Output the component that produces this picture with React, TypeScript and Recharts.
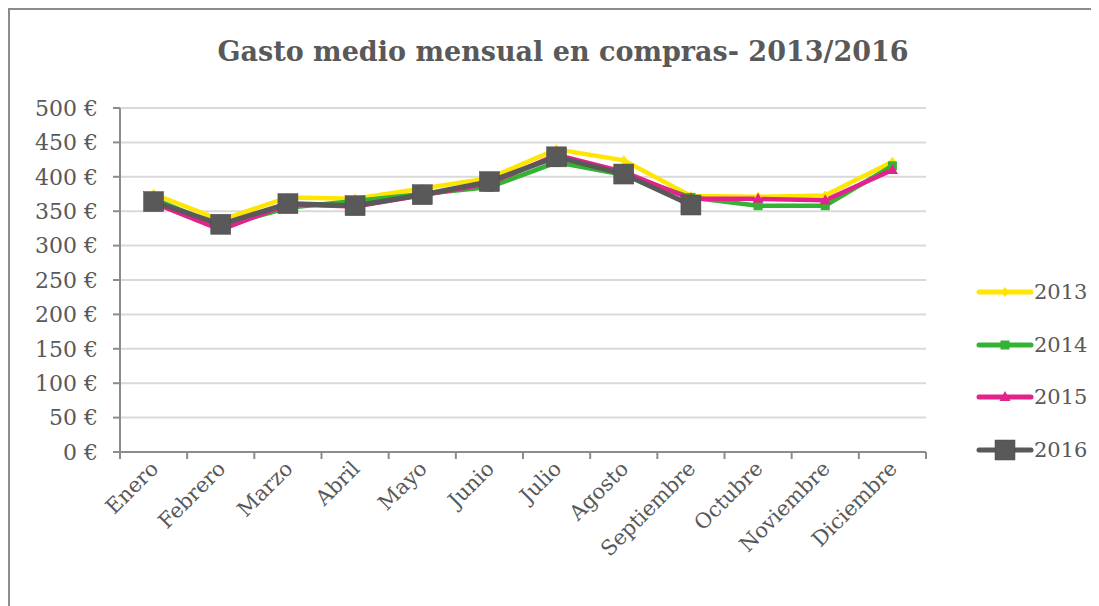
import React from 'react';
import { LineChart, Line, XAxis, YAxis, CartesianGrid } from 'recharts';

const months = [
  'Enero', 'Febrero', 'Marzo', 'Abril', 'Mayo', 'Junio',
  'Julio', 'Agosto', 'Septiembre', 'Octubre', 'Noviembre', 'Diciembre',
];

const gasto2013 = [375, 337, 370, 368, 383, 398, 440, 424, 372, 371, 373, 422];
const gasto2014 = [368, 328, 355, 365, 375, 385, 421, 403, 370, 358, 358, 416];
const gasto2015 = [362, 323, 360, 357, 373, 390, 432, 407, 368, 368, 366, 410];
const gasto2016: (number | null)[] = [364, 331, 361, 358, 374, 393, 429, 404, 359, null, null, null];

const yTicks = [0, 50, 100, 150, 200, 250, 300, 350, 400, 450, 500];
const xTicks = [0, 1, 2, 3, 4, 5, 6, 7, 8, 9, 10, 11, 12];

const data = months.map((m, i) => ({
  x: i + 0.5,
  month: m,
  y2013: gasto2013[i],
  y2014: gasto2014[i],
  y2015: gasto2015[i],
  y2016: gasto2016[i],
}));

const FONT = '"DejaVu Serif", serif';
const TEXT = '#595959';
const AXIS = '#8c8c8c';

const CHART_W = 1090;
const CHART_H = 596;
const MARGIN = { top: 98, right: 174, bottom: 0, left: 0 };
const Y_W = 110;
const BAND = (CHART_W - MARGIN.right - Y_W) / 12;

type Shape = 'diamond' | 'square' | 'triangle' | 'bigsquare';

const series: { key: string; name: string; color: string; shape: Shape }[] = [
  { key: 'y2013', name: '2013', color: '#FFE600', shape: 'diamond' },
  { key: 'y2014', name: '2014', color: '#33B233', shape: 'square' },
  { key: 'y2015', name: '2015', color: '#E3238C', shape: 'triangle' },
  { key: 'y2016', name: '2016', color: '#595959', shape: 'bigsquare' },
];

const marker = (shape: Shape, cx: number, cy: number, color: string) => {
  switch (shape) {
    case 'diamond':
      return <path d={`M${cx},${cy - 5}L${cx + 4},${cy}L${cx},${cy + 5}L${cx - 4},${cy}Z`} fill={color} />;
    case 'square':
      return <rect x={cx - 4.5} y={cy - 4.5} width={9} height={9} fill={color} />;
    case 'triangle':
      return <path d={`M${cx},${cy - 6}L${cx + 5.5},${cy + 4}L${cx - 5.5},${cy + 4}Z`} fill={color} />;
    default:
      return <rect x={cx - 10} y={cy - 10} width={20} height={20} fill={color} stroke="#4a4a4a" strokeWidth={0.5} />;
  }
};

const makeDot = (shape: Shape, color: string) => (props: any) => {
  const { cx, cy, index, value } = props;
  if (value == null || cx == null || cy == null) return <g key={`d-${index}`} />;
  return <g key={`d-${index}`}>{marker(shape, cx, cy, color)}</g>;
};

const MonthTick = (props: any) => {
  const { x, y, payload } = props;
  const i = payload.value;
  if (i >= 12) return <g />;
  const cx = x + BAND / 2 + 6;
  const cy = y + 9;
  return (
    <text
      x={cx}
      y={cy}
      transform={`rotate(-45 ${cx} ${cy})`}
      textAnchor="end"
      fill={TEXT}
      fontSize={21}
      fontFamily={FONT}
    >
      {months[i]}
    </text>
  );
};

const App: React.FC = () => {
  return (
    <div
      style={{
        position: 'relative',
        width: 1091,
        height: 598,
        boxSizing: 'border-box',
        borderLeft: `2px solid ${AXIS}`,
        borderTop: `2px solid ${AXIS}`,
        background: '#fff',
        fontFamily: FONT,
      }}
    >
      <style>{'html, body { overflow: hidden; }'}</style>
      <div
        style={{
          position: 'absolute',
          top: 26,
          left: 0,
          width: 1106,
          textAlign: 'center',
          fontSize: 27,
          fontWeight: 'bold',
          color: TEXT,
        }}
      >
        Gasto medio mensual en compras- 2013/2016
      </div>

      <LineChart width={CHART_W} height={CHART_H} data={data} margin={MARGIN}>
        <CartesianGrid vertical={false} stroke="#d9d9d9" strokeWidth={2} />
        <XAxis
          type="number"
          dataKey="x"
          domain={[0, 12]}
          ticks={xTicks}
          interval={0}
          height={CHART_H - MARGIN.top - 344}
          axisLine={{ stroke: AXIS, strokeWidth: 2 }}
          tickLine={{ stroke: AXIS, strokeWidth: 2 }}
          tickSize={7}
          tick={<MonthTick />}
        />
        <YAxis
          type="number"
          domain={[0, 500]}
          ticks={yTicks}
          interval={0}
          width={Y_W}
          axisLine={{ stroke: AXIS, strokeWidth: 2 }}
          tickLine={{ stroke: AXIS, strokeWidth: 2 }}
          tickSize={7}
          tickMargin={15}
          tickFormatter={(v: number) => `${v} €`}
          tick={{ fill: TEXT, fontSize: 22, fontFamily: FONT }}
        />
        {series.map((s) => (
          <Line
            key={s.key}
            type="linear"
            dataKey={s.key}
            name={s.name}
            stroke={s.color}
            strokeWidth={s.shape === 'bigsquare' ? 5 : 4.5}
            dot={makeDot(s.shape, s.color)}
            activeDot={false}
            connectNulls={false}
            isAnimationActive={false}
          />
        ))}
      </LineChart>

      <div style={{ position: 'absolute', left: 966, top: 256, whiteSpace: 'nowrap' }}>
        {series.map((s) => (
          <div key={s.key} style={{ display: 'flex', alignItems: 'center', height: 52.5 }}>
            <svg width={58} height={24}>
              <line x1={3} y1={12} x2={55} y2={12} stroke={s.color} strokeWidth={5} strokeLinecap="round" />
              {marker(s.shape, 29, 12, s.color)}
            </svg>
            <span style={{ fontSize: 21, color: TEXT }}>{s.name}</span>
          </div>
        ))}
      </div>
    </div>
  );
};

export default App;
